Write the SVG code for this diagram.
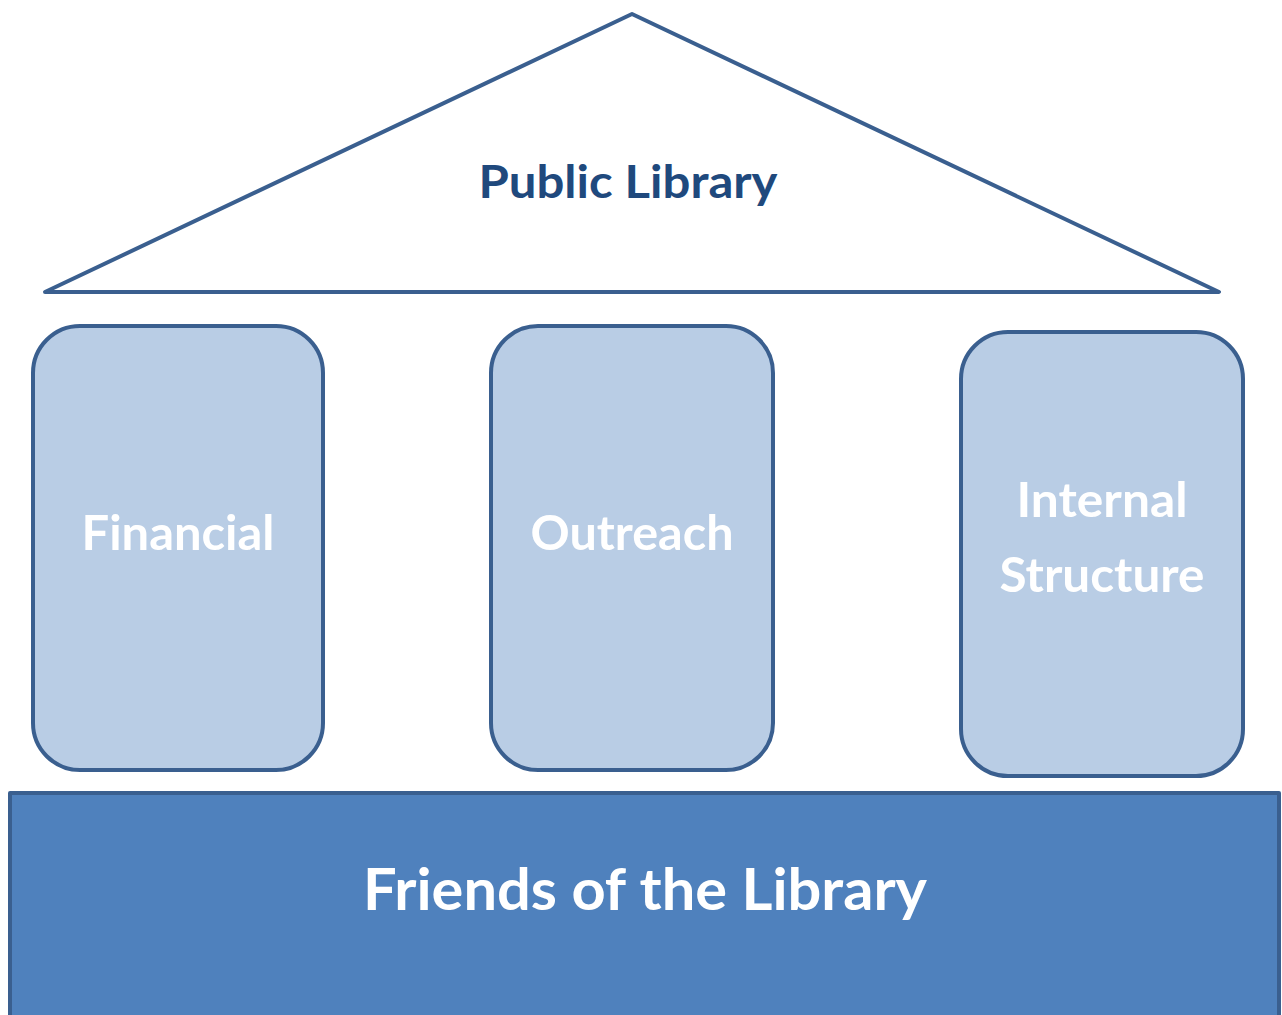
<svg xmlns="http://www.w3.org/2000/svg" width="1282" height="1015" viewBox="0 0 1282 1015">
  <style>
    .edge { stroke: #3A5F8F; stroke-width: 4; stroke-linejoin: round; }
    .roof { fill: #FFFFFF; }
    .pillar { fill: #B9CDE5; }
    .base { fill: #4F81BD; }
    .lbl { font-family: Lato, "Open Sans", "Liberation Sans", sans-serif; font-weight: bold; text-anchor: middle; }
    .white { fill: #FFFFFF; }
    .dark { fill: #1F497D; }
  </style>
  <rect width="1282" height="1015" fill="#FFFFFF"/>

  <!-- roof -->
  <g id="public-library">
    <polygon class="roof edge" points="45,292 632,14 1219,292"/>
    <text class="lbl dark" x="628" y="198" font-size="46" textLength="299" lengthAdjust="spacingAndGlyphs">Public Library</text>
  </g>

  <!-- pillars -->
  <g id="financial">
    <rect class="pillar edge" x="33" y="326" width="290" height="444" rx="47" ry="47"/>
    <text class="lbl white" x="178" y="550" font-size="48" textLength="193" lengthAdjust="spacingAndGlyphs">Financial</text>
  </g>
  <g id="outreach">
    <rect class="pillar edge" x="491" y="326" width="282" height="444" rx="47" ry="47"/>
    <text class="lbl white" x="632" y="550" font-size="48" textLength="203" lengthAdjust="spacingAndGlyphs">Outreach</text>
  </g>
  <g id="internal-structure">
    <rect class="pillar edge" x="961" y="332" width="282" height="444" rx="47" ry="47"/>
    <text class="lbl white" x="1102" y="517" font-size="48" textLength="171" lengthAdjust="spacingAndGlyphs">Internal</text>
    <text class="lbl white" x="1102" y="592" font-size="48" textLength="205" lengthAdjust="spacingAndGlyphs">Structure</text>
  </g>

  <!-- foundation -->
  <g id="friends-of-the-library">
    <rect class="base edge" x="10" y="793" width="1269" height="260"/>
    <text class="lbl white" x="645" y="910" font-size="57" textLength="564" lengthAdjust="spacingAndGlyphs">Friends of the Library</text>
  </g>

  <g id="connectors"></g>
</svg>
